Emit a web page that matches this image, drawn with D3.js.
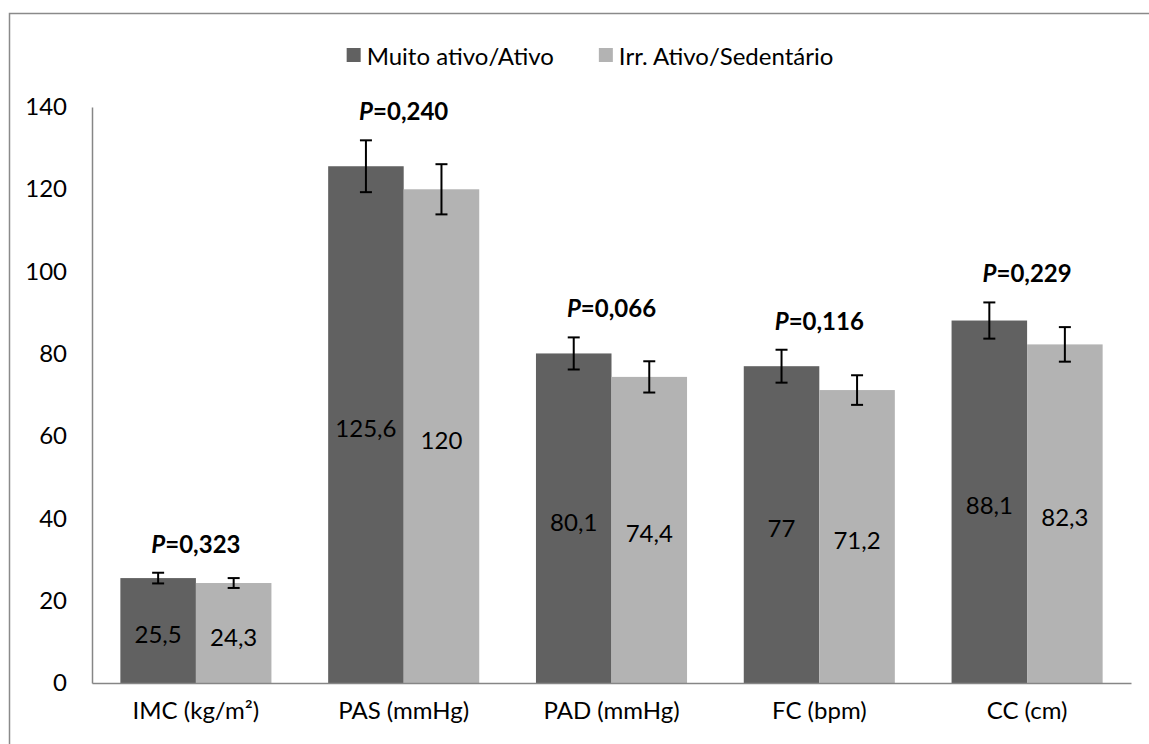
<!DOCTYPE html>
<html>
<head>
<meta charset="utf-8">
<script src="https://cdn.jsdelivr.net/npm/d3@7"></script>
<style>
  html, body { margin: 0; padding: 0; background: #fff; }
  svg { display: block; font-family: Lato, "Open Sans", sans-serif; }
</style>
</head>
<body>
<svg id="chart" width="1149" height="744"></svg>
<script>
const categories = ["IMC (kg/m²)", "PAS (mmHg)", "PAD (mmHg)", "FC (bpm)", "CC (cm)"];
const seriesNames = ["Muito ativo/Ativo", "Irr. Ativo/Sedentário"];
const activeValues = [25.5, 125.6, 80.1, 77, 88.1];
const sedentaryValues = [24.3, 120, 74.4, 71.2, 82.3];
const activeErrors = [1.3, 6.3, 3.9, 4.0, 4.4];
const sedentaryErrors = [1.2, 6.1, 3.8, 3.6, 4.2];
const pValues = ["0,323", "0,240", "0,066", "0,116", "0,229"];
const yTicks = [0, 20, 40, 60, 80, 100, 120, 140];

const colors = ["#616161", "#b3b3b3"];
const fontSize = 24;

const svg = d3.select("#chart");

// outer frame
svg.append("rect")
  .attr("x", 9.5).attr("y", 13.5)
  .attr("width", 1160).attr("height", 760)
  .attr("fill", "none").attr("stroke", "#8a8a8a").attr("stroke-width", 1.5);

const y = d3.scaleLinear().domain([0, 140]).range([683, 107]);
const x0 = d3.scaleBand().domain(categories).range([92, 1131])
  .paddingInner(0.273).paddingOuter(0.1365);
const x1 = d3.scaleBand().domain(seriesNames).range([0, x0.bandwidth()]).padding(0);

const rows = categories.map((c, i) => ({
  cat: c,
  p: pValues[i],
  items: [
    { s: seriesNames[0], v: activeValues[i], e: activeErrors[i], c: colors[0] },
    { s: seriesNames[1], v: sedentaryValues[i], e: sedentaryErrors[i], c: colors[1] }
  ]
}));

// y axis
const yAxis = svg.append("g")
  .attr("transform", "translate(92,0)")
  .call(d3.axisLeft(y).tickValues(yTicks).tickSize(0).tickSizeOuter(0).tickPadding(25));
yAxis.select(".domain").attr("stroke", "#868686").attr("stroke-width", 1.5);
yAxis.selectAll("text").attr("font-size", fontSize).attr("font-family", "Lato").attr("fill", "#000");

// bars
const groups = svg.append("g").selectAll("g.grp").data(rows).join("g")
  .attr("class", "grp")
  .attr("transform", d => `translate(${x0(d.cat)},0)`);

groups.selectAll("rect").data(d => d.items).join("rect")
  .attr("x", d => x1(d.s))
  .attr("y", d => y(d.v))
  .attr("width", x1.bandwidth())
  .attr("height", d => y(0) - y(d.v))
  .attr("fill", d => d.c);

// value labels
groups.selectAll("text.val").data(d => d.items).join("text")
  .attr("class", "val")
  .attr("x", d => x1(d.s) + x1.bandwidth() / 2)
  .attr("y", d => (y(d.v) + y(0)) / 2 + 3)
  .attr("text-anchor", "middle")
  .attr("dominant-baseline", "central")
  .attr("font-size", fontSize)
  .attr("fill", "#000")
  .text(d => String(d.v).replace(".", ","));

// error bars
const eb = groups.selectAll("g.err").data(d => d.items).join("g").attr("class", "err")
  .attr("stroke", "#000").attr("stroke-width", 2);
eb.append("line")
  .attr("x1", d => x1(d.s) + x1.bandwidth() / 2)
  .attr("x2", d => x1(d.s) + x1.bandwidth() / 2)
  .attr("y1", d => y(d.v + d.e)).attr("y2", d => y(d.v - d.e));
eb.append("line")
  .attr("x1", d => x1(d.s) + x1.bandwidth() / 2 - 6)
  .attr("x2", d => x1(d.s) + x1.bandwidth() / 2 + 6)
  .attr("y1", d => y(d.v + d.e)).attr("y2", d => y(d.v + d.e));
eb.append("line")
  .attr("x1", d => x1(d.s) + x1.bandwidth() / 2 - 6)
  .attr("x2", d => x1(d.s) + x1.bandwidth() / 2 + 6)
  .attr("y1", d => y(d.v - d.e)).attr("y2", d => y(d.v - d.e));

// P labels
const pText = groups.append("text")
  .attr("x", x0.bandwidth() / 2)
  .attr("y", d => y(Math.max(...d.items.map(it => it.v + it.e))) - 20)
  .attr("text-anchor", "middle")
  .attr("font-size", fontSize)
  .attr("font-weight", "bold")
  .attr("fill", "#000");
pText.append("tspan").attr("font-style", "italic").text("P");
pText.append("tspan").text(d => "=" + d.p);

// x axis
const xAxis = svg.append("g")
  .attr("transform", "translate(0,683)")
  .call(d3.axisBottom(x0).tickSize(0).tickSizeOuter(0).tickPadding(19));
xAxis.select(".domain").attr("stroke", "#868686").attr("stroke-width", 1.5);
xAxis.selectAll("text").attr("font-size", fontSize).attr("font-family", "Lato").attr("fill", "#000");

// legend
const legend = svg.append("g");
const legendY = 55;
let items = [];
seriesNames.forEach((s, i) => {
  const g = legend.append("g");
  g.append("rect").attr("x", 0).attr("y", legendY - 7).attr("width", 14).attr("height", 14).attr("fill", colors[i]);
  g.append("text").attr("x", 20).attr("y", legendY).attr("dominant-baseline", "central")
    .attr("font-size", fontSize).attr("fill", "#000").text(s);
  items.push(g);
});
let widths = items.map(g => g.node().getBBox().width);
const gap = 45;
const total = widths.reduce((a, b) => a + b, 0) + gap * (items.length - 1);
let cx = 590 - total / 2;
items.forEach((g, i) => {
  g.attr("transform", `translate(${cx},0)`);
  cx += widths[i] + gap;
});
</script>
</body>
</html>
